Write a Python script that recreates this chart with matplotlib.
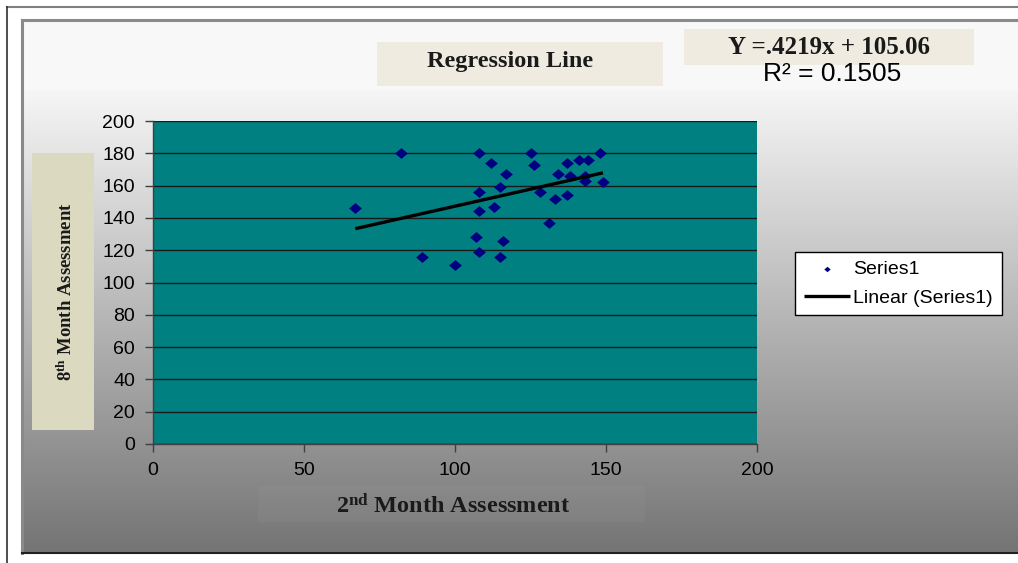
import numpy as np
import matplotlib
matplotlib.use("Agg")
import matplotlib.pyplot as plt
from matplotlib.patches import Rectangle
from matplotlib.lines import Line2D
from matplotlib.path import Path

# 2nd-month vs 8th-month assessment scores
month2 = [82, 108, 125, 148, 112, 126, 137, 141, 144, 117, 134, 138, 143, 143, 149,
          108, 115, 128, 133, 137, 67, 108, 113, 131, 107, 116, 108, 89, 115, 100]
month8 = [180, 180, 180, 180, 174, 173, 174, 176, 176, 167, 167, 166, 166, 163, 162,
          156, 159, 156, 152, 154, 146, 144, 147, 137, 128, 126, 119, 116, 116, 111]

slope = 0.4219
intercept = 105.06
r_squared = 0.1505

x_ticks = [0, 50, 100, 150, 200]
y_ticks = [0, 20, 40, 60, 80, 100, 120, 140, 160, 180, 200]

W, H = 1018, 563
fig = plt.figure(figsize=(W / 100, H / 100), dpi=100)
fig.patch.set_facecolor("white")


def fx(px):
    return px / W


def fy(py):
    return 1 - py / H


# Chart panel with vertical grey gradient
bg = fig.add_axes([fx(22), fy(553), fx(1018 - 22), (553 - 20) / H], zorder=0)
rows = 533
t = np.linspace(0, 1, rows)
shade = np.where(t < 0.13, 0.975,
                 0.965 - (0.965 - 0.455) * np.clip((t - 0.13) / 0.87, 0, 1))
grad = np.repeat(shade[:, None], 2, axis=1)
bg.imshow(np.dstack([grad, grad, grad]), aspect="auto", extent=[0, 1, 0, 1],
          interpolation="bilinear")
bg.set_xlim(0, 1)
bg.set_ylim(0, 1)
bg.axis("off")

# Frame lines
fig.add_artist(Line2D([fx(7), fx(1018)], [fy(7), fy(7)], color="#808080", lw=1.5))
fig.add_artist(Line2D([fx(7), fx(7)], [fy(7), fy(563)], color="#303030", lw=1.2))
fig.add_artist(Line2D([fx(22), fx(1018)], [fy(20), fy(20)], color="#8a8a8a", lw=2.2))
fig.add_artist(Line2D([fx(22), fx(22)], [fy(20), fy(553)], color="#8a8a8a", lw=2.2))
fig.add_artist(Line2D([fx(22), fx(1018)], [fy(553), fy(553)], color="#202020", lw=1.5))

# Plot area
ax = fig.add_axes([fx(153), fy(444), fx(757 - 153), (444 - 121) / H], zorder=2)
ax.set_facecolor("#008080")
ax.set_xlim(0, 200)
ax.set_ylim(0, 200)
ax.set_xticks(x_ticks)
ax.set_yticks(y_ticks)
ax.yaxis.grid(True, color="#1a1a1a", lw=1.0)
ax.set_axisbelow(True)
for side in ("top", "right"):
    ax.spines[side].set_visible(False)
for side in ("left", "bottom"):
    ax.spines[side].set_color("#404040")
    ax.spines[side].set_linewidth(1.0)
ax.tick_params(direction="out", length=6, width=1, color="#404040",
               labelsize=14, pad=7)
for lab in ax.get_xticklabels() + ax.get_yticklabels():
    lab.set_fontfamily("Liberation Sans")

diamond = Path([(-1, 0), (0, 0.85), (1, 0), (0, -0.85), (-1, 0)],
               [Path.MOVETO, Path.LINETO, Path.LINETO, Path.LINETO, Path.CLOSEPOLY])
ax.scatter(month2, month8, marker=diamond, s=85, color="#000080", lw=0,
           zorder=3, label="Series1")

xl = np.array([min(month2), max(month2)])
ax.plot(xl, slope * xl + intercept, color="black", lw=2.4, zorder=4,
        label="Linear (Series1)", solid_capstyle="butt")

leg = ax.legend(loc="upper left", bbox_to_anchor=(fx(795), fy(252)),
                bbox_transform=fig.transFigure, frameon=True, fancybox=False,
                edgecolor="black", framealpha=1,
                prop={"family": "Liberation Sans", "size": 14},
                handlelength=2.4, handletextpad=0.15, borderpad=0.45,
                labelspacing=0.55, markerscale=0.5, borderaxespad=0)
leg.get_frame().set_linewidth(1.0)

# Title box
fig.add_artist(Rectangle((fx(377), fy(86)), fx(663 - 377), (86 - 42) / H,
                         transform=fig.transFigure, facecolor="#efebe0",
                         edgecolor="none", zorder=1))
fig.text(fx(510), fy(61), "Regression Line", ha="center", va="center",
         family="Liberation Serif", weight="bold", fontsize=17.5, color="#1a1a1a",
         zorder=3)

# Equation box
fig.add_artist(Rectangle((fx(684), fy(65)), fx(974 - 684), (65 - 29) / H,
                         transform=fig.transFigure, facecolor="#efebe0",
                         edgecolor="none", zorder=1))
fig.text(fx(829), fy(47), f"Y =.{int(round(slope * 10000))}x + {intercept:.2f}",
         ha="center", va="center", family="Liberation Serif", weight="bold",
         fontsize=18, color="#1a1a1a", zorder=3)
fig.text(fx(832), fy(74), f"R² = {r_squared:.4f}", ha="center", va="center",
         family="Liberation Sans", fontsize=19, color="black", zorder=3)

# Y-axis label box
fig.add_artist(Rectangle((fx(32), fy(430)), fx(94 - 32), (430 - 153) / H,
                         transform=fig.transFigure, facecolor="#dcd9c1",
                         edgecolor="none", zorder=1))
fig.text(fx(66), fy(292), r"$\mathregular{8^{th}}$ Month Assessment",
         rotation=90, ha="center", va="center", family="Liberation Serif",
         weight="bold", fontsize=13.5, color="#1a1a1a", zorder=3)

# X-axis label
fig.add_artist(Rectangle((fx(258), fy(522)), fx(645 - 258), (522 - 486) / H,
                         transform=fig.transFigure, facecolor="white",
                         edgecolor="none", zorder=1, alpha=0.03))
fig.text(fx(453), fy(506), r"$\mathregular{2^{nd}}$ Month Assessment",
         ha="center", va="center", family="Liberation Serif", weight="bold",
         fontsize=17.5, color="#1a1a1a", zorder=3)

fig.savefig("out.png", dpi=100)
